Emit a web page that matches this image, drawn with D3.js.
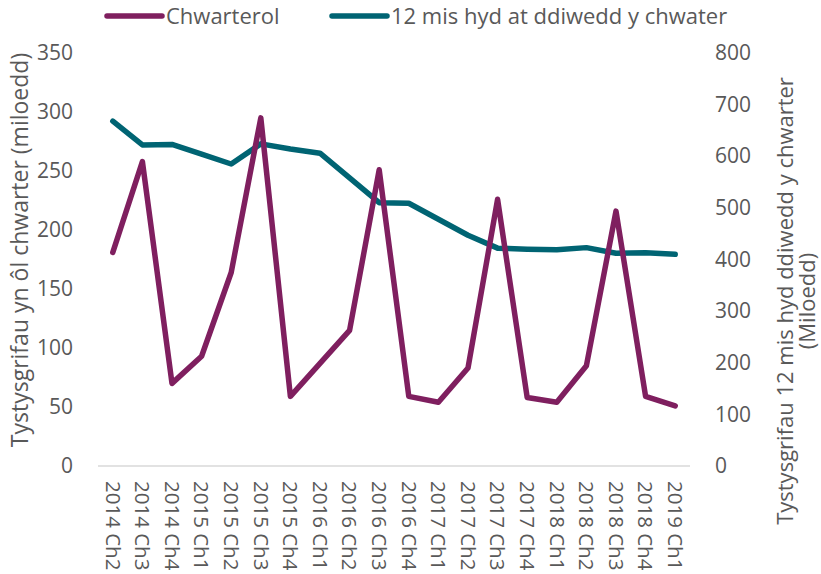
<!DOCTYPE html>
<html lang="cy">
  <head>
    <meta charset="utf-8" />
    <script src="https://d3js.org/d3.v7.min.js"></script>
    <style type="text/css">
        body { margin:0; background:#fff; }
        text { font-family:"Open Sans", sans-serif; fill:#595959; }
    </style>
  </head>
  <body>
    <svg></svg>
  </body>
  <script type="text/javascript">

    var w = 821,
        h = 574;

    var categories = ['2014 Ch2', '2014 Ch3', '2014 Ch4', '2015 Ch1', '2015 Ch2',
                      '2015 Ch3', '2015 Ch4', '2016 Ch1', '2016 Ch2', '2016 Ch3',
                      '2016 Ch4', '2017 Ch1', '2017 Ch2', '2017 Ch3', '2017 Ch4',
                      '2018 Ch1', '2018 Ch2', '2018 Ch3', '2018 Ch4', '2019 Ch1'];

    // Chwarterol (left axis, thousands)
    var quarterly = [181, 258, 70, 93, 164, 295, 59, 87, 115, 251,
                     59, 54, 83, 226, 58, 54, 85, 216, 59, 51];

    // 12 mis hyd at ddiwedd y chwarter (right axis, thousands)
    var rolling = [668, 622, 623, 604, 585, 624, 614, 606, 558, 510,
                   509, 478, 447, 422, 420, 419, 423, 412, 413, 410];

    var leftTicks = [0, 50, 100, 150, 200, 250, 300, 350];
    var rightTicks = [0, 100, 200, 300, 400, 500, 600, 700, 800];

    var purple = '#7f1f5f',
        teal = '#006473';

    var plot = { left: 98, right: 690, top: 53, bottom: 466 };

    var svg = d3.select('svg')
                .attr('width', w)
                .attr('height', h);

    var xScale = d3.scaleBand()
                   .domain(categories)
                   .range([plot.left, plot.right]);
    var yLeft = d3.scaleLinear()
                  .domain([0, 350])
                  .range([plot.bottom, plot.top]);
    var yRight = d3.scaleLinear()
                   .domain([0, 800])
                   .range([plot.bottom, plot.top]);

    function xMid(d) {
        return xScale(d) + xScale.bandwidth() / 2;
    }

    // baseline
    svg.append('line')
       .attr('x1', plot.left).attr('x2', plot.right)
       .attr('y1', plot.bottom).attr('y2', plot.bottom)
       .attr('stroke', '#d9d9d9')
       .attr('stroke-width', 1.5);

    // left axis labels
    var gl = svg.append('g')
                .attr('transform', 'translate(73,0)')
                .call(d3.axisLeft(yLeft).tickValues(leftTicks).tickSize(0).tickPadding(0));
    gl.select('.domain').remove();
    gl.selectAll('text').style('font-size', '21px').attr('fill', '#595959');

    // right axis labels
    var gr = svg.append('g')
                .attr('transform', 'translate(715,0)')
                .call(d3.axisRight(yRight).tickValues(rightTicks).tickSize(0).tickPadding(0));
    gr.select('.domain').remove();
    gr.selectAll('text').style('font-size', '21px').attr('fill', '#595959');

    // category labels, rotated
    svg.selectAll('text.cat')
       .data(categories)
       .enter()
       .append('text')
       .attr('class', 'cat')
       .text(function(d) { return d; })
       .attr('transform', function(d) {
           return 'translate(' + xMid(d) + ',481) rotate(90)';
       })
       .attr('dy', '0.35em')
       .style('font-size', '20.5px');

    // lines
    var lineLeft = d3.line()
                     .x(function(d, i) { return xMid(categories[i]); })
                     .y(function(d) { return yLeft(d); });
    var lineRight = d3.line()
                      .x(function(d, i) { return xMid(categories[i]); })
                      .y(function(d) { return yRight(d); });

    svg.append('path')
       .datum(rolling)
       .attr('d', lineRight)
       .attr('fill', 'none')
       .attr('stroke', teal)
       .attr('stroke-width', 5.5)
       .attr('stroke-linejoin', 'round')
       .attr('stroke-linecap', 'round');

    svg.append('path')
       .datum(quarterly)
       .attr('d', lineLeft)
       .attr('fill', 'none')
       .attr('stroke', purple)
       .attr('stroke-width', 5.5)
       .attr('stroke-linejoin', 'round')
       .attr('stroke-linecap', 'round');

    // axis titles
    svg.append('text')
       .text('Tystysgrifau yn ôl chwarter (miloedd)')
       .attr('transform', 'translate(28,250) rotate(-90)')
       .attr('text-anchor', 'middle')
       .style('font-size', '23px');

    svg.append('text')
       .text('Tystysgrifau 12 mis hyd ddiwedd y chwarter')
       .attr('transform', 'translate(793,301) rotate(-90)')
       .attr('text-anchor', 'middle')
       .style('font-size', '22px');

    svg.append('text')
       .text('(Miloedd)')
       .attr('transform', 'translate(815,301) rotate(-90)')
       .attr('text-anchor', 'middle')
       .style('font-size', '22px');

    // legend
    var legend = [
        { name: 'Chwarterol', color: purple, x: 107 },
        { name: '12 mis hyd at ddiwedd y chwater', color: teal, x: 332 }
    ];
    var lg = svg.selectAll('g.legend')
                .data(legend)
                .enter()
                .append('g')
                .attr('class', 'legend')
                .attr('transform', function(d) { return 'translate(' + d.x + ',16)'; });
    lg.append('line')
      .attr('x1', 0).attr('x2', 55)
      .attr('stroke', function(d) { return d.color; })
      .attr('stroke-width', 5.5)
      .attr('stroke-linecap', 'round');
    lg.append('text')
      .text(function(d) { return d.name; })
      .attr('x', 59)
      .attr('dy', '0.35em')
      .style('font-size', '22px');
  </script>
</html>
